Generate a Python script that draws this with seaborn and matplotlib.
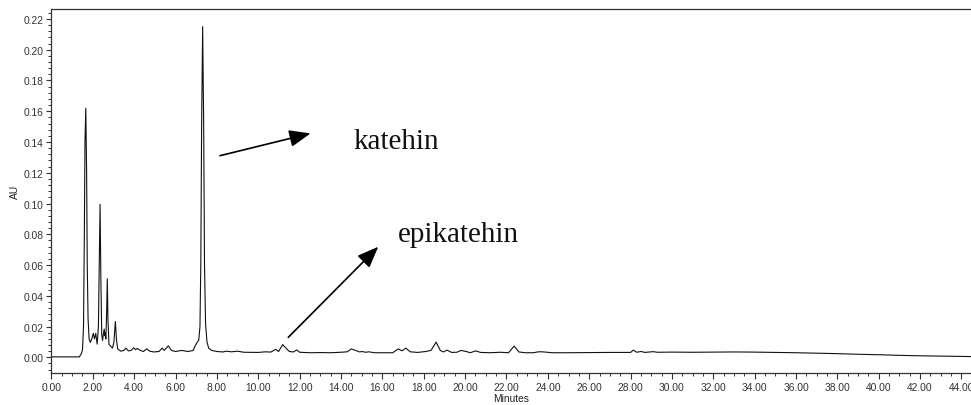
import matplotlib
matplotlib.use("Agg")
import matplotlib.pyplot as plt
from matplotlib.ticker import MultipleLocator, FormatStrFormatter
import seaborn as sns
import pandas as pd

# Retention time (min) of each recorded point of the UV trace
minutes = [
    0.00, 1.35, 1.45, 1.50, 1.55, 1.59, 1.62, 1.66, 1.70, 1.73, 1.77, 1.82,
    1.88, 1.95, 2.02, 2.08, 2.14, 2.21, 2.27, 2.31, 2.35, 2.39, 2.43, 2.47,
    2.51, 2.55, 2.58, 2.60, 2.63, 2.67, 2.70, 2.73, 2.78, 2.85, 2.95, 3.02,
    3.09, 3.14, 3.20, 3.35, 3.50, 3.60, 3.72, 3.85, 3.97, 4.07, 4.15, 4.30,
    4.45, 4.60, 4.75, 4.95, 5.20, 5.35, 5.45, 5.65, 5.80, 6.00, 6.30, 6.60,
    6.85, 6.95, 7.05, 7.12, 7.18, 7.22, 7.26, 7.31, 7.36, 7.40, 7.45, 7.52,
    7.60, 7.75, 8.00, 8.30, 8.45, 8.70, 9.00, 9.30, 10.00, 10.35, 10.60, 10.85,
    10.98, 11.18, 11.30, 11.50, 11.70, 11.86, 12.00, 12.50, 13.00, 13.50, 14.00, 14.30,
    14.50, 14.70, 14.90, 15.00, 15.20, 15.35, 15.60, 16.00, 16.50, 16.77, 16.95, 17.13,
    17.35, 17.70, 18.10, 18.35, 18.60, 18.80, 18.95, 19.12, 19.35, 19.60, 19.80, 20.05,
    20.25, 20.50, 20.75, 21.20, 21.70, 22.10, 22.37, 22.60, 22.90, 23.30, 23.55, 23.70,
    23.90, 24.20, 25.00, 26.00, 27.00, 28.00, 28.13, 28.30, 28.50, 28.70, 29.10, 29.30,
    30.00, 31.00, 32.00, 33.00, 34.00, 35.00, 36.00, 37.00, 38.00, 39.00, 40.00, 41.00,
    42.00, 43.00, 44.00, 44.50,
]

# Absorbance (AU) at each retention time
absorbance = [
    0.0003, 0.0003, 0.0025, 0.0050, 0.0200, 0.0800, 0.1400, 0.1620, 0.1200, 0.0600, 0.0250, 0.0120,
    0.0097, 0.0120, 0.0156, 0.0120, 0.0156, 0.0086, 0.0200, 0.0600, 0.0995, 0.0500, 0.0150, 0.0110,
    0.0150, 0.0184, 0.0140, 0.0160, 0.0120, 0.0300, 0.0510, 0.0250, 0.0085, 0.0075, 0.0060, 0.0100,
    0.0233, 0.0120, 0.0055, 0.0040, 0.0045, 0.0060, 0.0042, 0.0045, 0.0062, 0.0050, 0.0058, 0.0045,
    0.0038, 0.0055, 0.0040, 0.0035, 0.0038, 0.0060, 0.0045, 0.0075, 0.0045, 0.0038, 0.0045, 0.0038,
    0.0045, 0.0075, 0.0099, 0.0110, 0.0200, 0.0600, 0.1500, 0.2150, 0.1500, 0.0600, 0.0220, 0.0100,
    0.0060, 0.0045, 0.0038, 0.0035, 0.0040, 0.0036, 0.0040, 0.0033, 0.0032, 0.0036, 0.0034, 0.0052,
    0.0038, 0.0083, 0.0065, 0.0038, 0.0035, 0.0048, 0.0033, 0.0030, 0.0031, 0.0030, 0.0033, 0.0036,
    0.0055, 0.0045, 0.0035, 0.0038, 0.0033, 0.0036, 0.0030, 0.0030, 0.0030, 0.0055, 0.0042, 0.0060,
    0.0036, 0.0032, 0.0038, 0.0045, 0.0099, 0.0045, 0.0035, 0.0047, 0.0032, 0.0033, 0.0045, 0.0038,
    0.0030, 0.0042, 0.0032, 0.0030, 0.0033, 0.0030, 0.0073, 0.0035, 0.0030, 0.0030, 0.0036, 0.0036,
    0.0034, 0.0030, 0.0030, 0.0031, 0.0032, 0.0032, 0.0047, 0.0033, 0.0038, 0.0032, 0.0037, 0.0033,
    0.0034, 0.0033, 0.0034, 0.0035, 0.0034, 0.0032, 0.0030, 0.0027, 0.0024, 0.0020, 0.0017, 0.0013,
    0.0010, 0.0008, 0.0006, 0.0005,
]

# Peak labels: (text, arrow tail, arrow head, text anchor) in data units
peak_labels = ["katehin", "epikatehin"]
arrow_tails = [(8.15, 0.1311), (11.45, 0.0130)]
arrow_heads = [(12.53, 0.1456), (15.80, 0.0719)]
label_anchors = [(14.58, 0.1361), (16.76, 0.0758)]

x_ticks = [2 * i for i in range(23)]
y_ticks = [0.02 * i for i in range(12)]

sns.set_theme(style="ticks")
plt.rcParams["font.family"] = ["Liberation Sans", "DejaVu Sans"]

fig = plt.figure(figsize=(9.71, 4.06), dpi=100)
ax = fig.add_axes([0.053, 0.0795, 0.947, 0.896])

trace = pd.DataFrame({"Minutes": minutes, "AU": absorbance})
sns.lineplot(data=trace, x="Minutes", y="AU", ax=ax, color="#111111",
             linewidth=0.8, estimator=None, sort=False)

ax.set_xlim(0, 44.46)
ax.set_ylim(-0.01, 0.2265)

ax.set_xticks(x_ticks)
ax.set_yticks(y_ticks)
ax.xaxis.set_minor_locator(MultipleLocator(0.5))
ax.yaxis.set_minor_locator(MultipleLocator(0.004))
ax.xaxis.set_major_formatter(FormatStrFormatter("%.2f"))
ax.yaxis.set_major_formatter(FormatStrFormatter("%.2f"))

ax.tick_params(axis="both", which="major", labelsize=7.4, length=3.5,
               width=0.8, colors="#333333", pad=2)
ax.tick_params(axis="both", which="minor", length=2, width=0.7, colors="#333333")
ax.tick_params(axis="x", which="major", length=4.5)

ax.set_xlabel("Minutes", fontsize=7.4, color="#222222", labelpad=1)
ax.set_ylabel("AU", fontsize=7.4, color="#222222", labelpad=3)

for side in ["left", "bottom", "top"]:
    ax.spines[side].set_visible(True)
    ax.spines[side].set_color("#333333")
    ax.spines[side].set_linewidth(0.9)
ax.spines["right"].set_visible(False)

for text, tail, head, anchor in zip(peak_labels, arrow_tails, arrow_heads, label_anchors):
    ax.annotate("", xy=head, xytext=tail,
                arrowprops=dict(arrowstyle="-|>,head_length=0.65,head_width=0.26",
                                mutation_scale=20, color="black", lw=1.2,
                                shrinkA=0, shrinkB=0))
    ax.text(anchor[0], anchor[1], text, fontsize=21, color="#111111",
            family=["Liberation Serif", "DejaVu Serif"], ha="left", va="baseline")

fig.savefig("out.png", dpi=100)
